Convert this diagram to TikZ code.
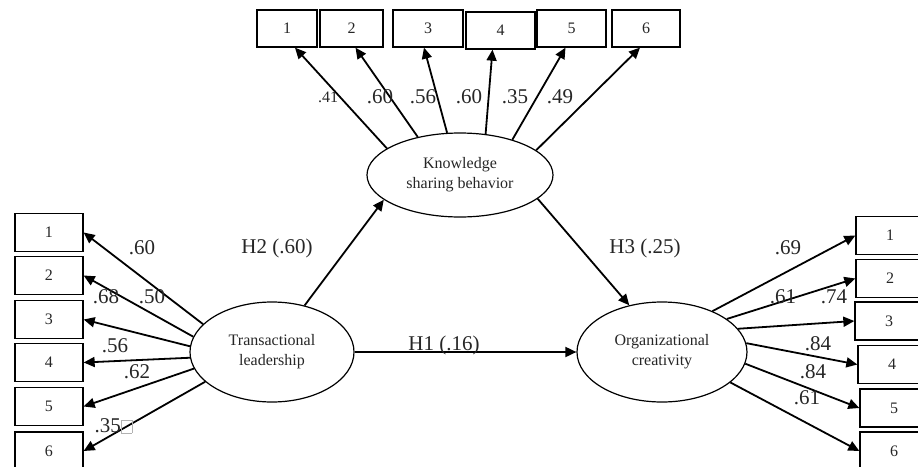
\documentclass[tikz,border=0pt]{standalone}
\usepackage{fontspec}
\setmainfont{Liberation Serif}
\usetikzlibrary{arrows.meta,shapes.geometric}
\begin{document}
\begin{tikzpicture}[x=0.5pt,y=-0.5pt,
    item/.style={draw,line width=0.65pt,minimum width=34pt,minimum height=19pt,inner sep=0pt,text=black!85,font=\fontsize{8}{10}\selectfont},
    latent/.style={draw,ellipse,line width=0.6pt,inner sep=0pt,align=center,text=black!85,font=\fontsize{8}{10}\selectfont},
    coef/.style={inner sep=0pt,text=black!85,font=\fontsize{10.5}{12}\selectfont}]
      \clip (0,0) rectangle (918,467);
      \draw
        (49,232.5) node[item] (tl1){1}
        (49,275.5) node[item] (tl2){2}
        (49,319.5) node[item] (tl3){3}
        (49,362.5) node[item] (tl4){4}
        (49,406.5) node[item] (tl5){5}
        (49,451) node[item] (tl6){6}
        (287,28.5) node[item,minimum width=30pt,minimum height=18.5pt] (ks1){1}
        (351.5,28.5) node[item,minimum width=31.5pt,minimum height=18.5pt] (ks2){2}
        (428,28.5) node[item,minimum width=35pt,minimum height=18.5pt] (ks3){3}
        (500.5,30.5) node[item,minimum width=34.5pt,minimum height=18.5pt] (ks4){4}
        (571.5,28.5) node[item,minimum width=34.5pt,minimum height=18.5pt] (ks5){5}
        (646,28.5) node[item,minimum width=34pt,minimum height=18.5pt] (ks6){6}
        (890,235.5) node[item] (oc1){1}
        (890,278.5) node[item] (oc2){2}
        (889,321) node[item] (oc3){3}
        (892,364.5) node[item] (oc4){4}
        (894,408) node[item] (oc5){5}
        (894,451) node[item] (oc6){6};
      \draw
        (272,352) node[latent,minimum width=82pt,minimum height=50pt] (TL){Transactional\\leadership}
        (460,175) node[latent,minimum width=93pt,minimum height=42pt] (KSB){Knowledge\\sharing behavior}
        (662,352) node[latent,minimum width=85pt,minimum height=50pt] (OC){Organizational\\creativity};
      \begin{scope}[-{Triangle[length=5.5pt,width=5pt]},line width=0.9pt]
        \draw (TL.158) to (tl1.east);
        \draw (TL.169) to (tl2.east);
        \draw (TL.176) to (tl3.east);
        \draw (TL.184) to (tl4.east);
        \draw (TL.192) to (tl5.east);
        \draw (TL.204) to (tl6.east);
        \draw (KSB.160) to ([xshift=4pt]ks1.south);
        \draw (KSB.138) to ([xshift=2pt]ks2.south);
        \draw (KSB.107) to ([xshift=-2pt]ks3.south);
        \draw (KSB.58) to ([xshift=-4pt]ks4.south);
        \draw (KSB.34) to ([xshift=-3pt]ks5.south);
        \draw (KSB.18) to ([xshift=-3pt]ks6.south);
        \draw (OC.39) to (oc1.west);
        \draw (OC.27) to (oc2.west);
        \draw (OC.17) to (oc3.west);
        \draw (OC.6) to (oc4.west);
        \draw (OC.-8) to (oc5.west);
        \draw (OC.-24) to (oc6.west);
        \draw (TL.55) to (KSB.198);
        \draw (TL) to (OC);
        \draw (KSB.-17) to (OC.125);
      \end{scope}
      \path
        (142,248) node[coef] (l1){.60}
        (106,297) node[coef] (l2){.68}
        (152,297) node[coef] (l3){.50}
        (115,346) node[coef] (l4){.56}
        (137,372) node[coef] (l5){.62}
        (113.5,426) node[coef] (l6){.35{\color{gray!60}\setlength{\fboxsep}{0pt}\setlength{\fboxrule}{0.4pt}\fbox{\rule{0pt}{6pt}\hspace{5pt}}}}
        (328,97) node[coef,font=\fontsize{8}{10}\selectfont] (k1){.41}
        (380,97) node[coef] (k2){.60}
        (423,97) node[coef] (k3){.56}
        (469,97) node[coef] (k4){.60}
        (515,97) node[coef] (k5){.35}
        (560,97) node[coef] (k6){.49}
        (788,248) node[coef] (o1){.69}
        (783,297) node[coef] (o2){.61}
        (834,297) node[coef] (o3){.74}
        (818,344) node[coef] (o4){.84}
        (813,372) node[coef] (o5){.84}
        (807,398) node[coef] (o6){.61}
        (277,248) node[coef] (h2){H2 (.60)}
        (444,345) node[coef] (h1){H1 (.16)}
        (645,248) node[coef] (h3){H3 (.25)};
    \end{tikzpicture}
\end{document}
